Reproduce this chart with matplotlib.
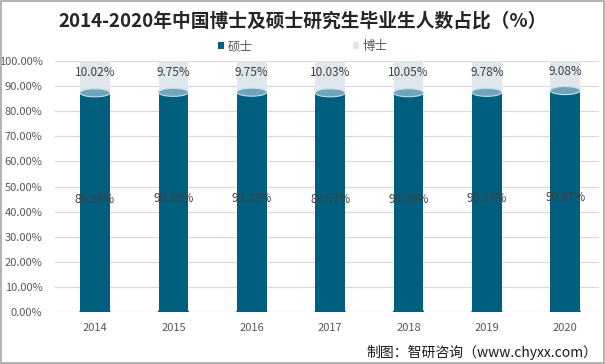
import numpy as np
import matplotlib.pyplot as plt
from matplotlib.patches import Ellipse, Rectangle

plt.rcParams['font.family'] = ['Noto Sans CJK SC', 'DejaVu Sans']

years = ['2014', '2015', '2016', '2017', '2018', '2019', '2020']
master = [89.96, 90.16, 90.23, 89.97, 90.00, 90.17, 90.87]
doctor = [10.02, 9.75, 9.75, 10.03, 10.05, 9.78, 9.08]

dark = '#005f7f'
cap = '#6fa5b9'
light = '#dfe7ec'

fig = plt.figure(figsize=(6.05, 3.64), dpi=100)
ax = fig.add_axes([0.091, 0.143, 0.899, 0.689])

x = np.arange(len(years))
w = 0.38
off = 2.6  # perspective drop of the cylinder top
m = np.array(master)
d = np.array(doctor)

ax.bar(x, d + off, w, bottom=m - off, color=light, zorder=2, label='博士')
ax.bar(x, m - off, w, color=dark, zorder=3, label='硕士')
for i in range(len(years)):
    ax.add_patch(Ellipse((x[i], 0), w, 3.2, color=dark, zorder=3))
    ax.add_patch(Ellipse((x[i], m[i] - off), w, 3.2, facecolor=cap,
                         edgecolor='#c9dbe3', lw=0.8, zorder=4))
    ax.text(x[i], m[i] / 2, f'{master[i]:.2f}%', ha='center', va='center',
            fontsize=8.5, color='#404040', zorder=5)
    ax.text(x[i], m[i] + d[i] / 2 + 0.5, f'{doctor[i]:.2f}%', ha='center', va='center',
            fontsize=8.5, color='#404040', zorder=5)

ax.set_xlim(-0.51, 6.43)
ax.set_ylim(0, 100)
ax.set_yticks(np.arange(0, 101, 10))
ax.set_yticklabels([f'{v:.2f}%' for v in np.arange(0, 101, 10)])
ax.set_xticks(x)
ax.set_xticklabels(years)
ax.tick_params(axis='both', length=0, labelsize=8, colors='#595959')
ax.tick_params(axis='x', pad=8)
ax.tick_params(axis='y', pad=9)
ax.yaxis.grid(True, color='#d9d9d9', lw=0.9, zorder=0)
ax.set_axisbelow(True)
for s in ax.spines.values():
    s.set_visible(False)

fig.text(0.5, 0.942, '2014-2020年中国博士及硕士研究生毕业生人数占比（%）', ha='center', va='center',
         fontsize=13.5, fontweight='bold', color='#262626')

h, l = ax.get_legend_handles_labels()
fig.legend([h[1], h[0]], [l[1], l[0]], loc='center', bbox_to_anchor=(0.5, 0.872), ncol=2,
           frameon=False, fontsize=9, handlelength=0.5, handleheight=0.5,
           columnspacing=8, handletextpad=0.3, labelcolor='#595959')

fig.text(0.988, 0.032, '制图：智研咨询（www.chyxx.com）', ha='right', va='center',
         fontsize=10, color='#1a1a1a')

fig.add_artist(Rectangle((0.001, 0.002), 0.997, 0.995, transform=fig.transFigure,
                         fill=False, edgecolor='#a6a6a6', lw=1.2))

fig.savefig('out.png', dpi=100)
